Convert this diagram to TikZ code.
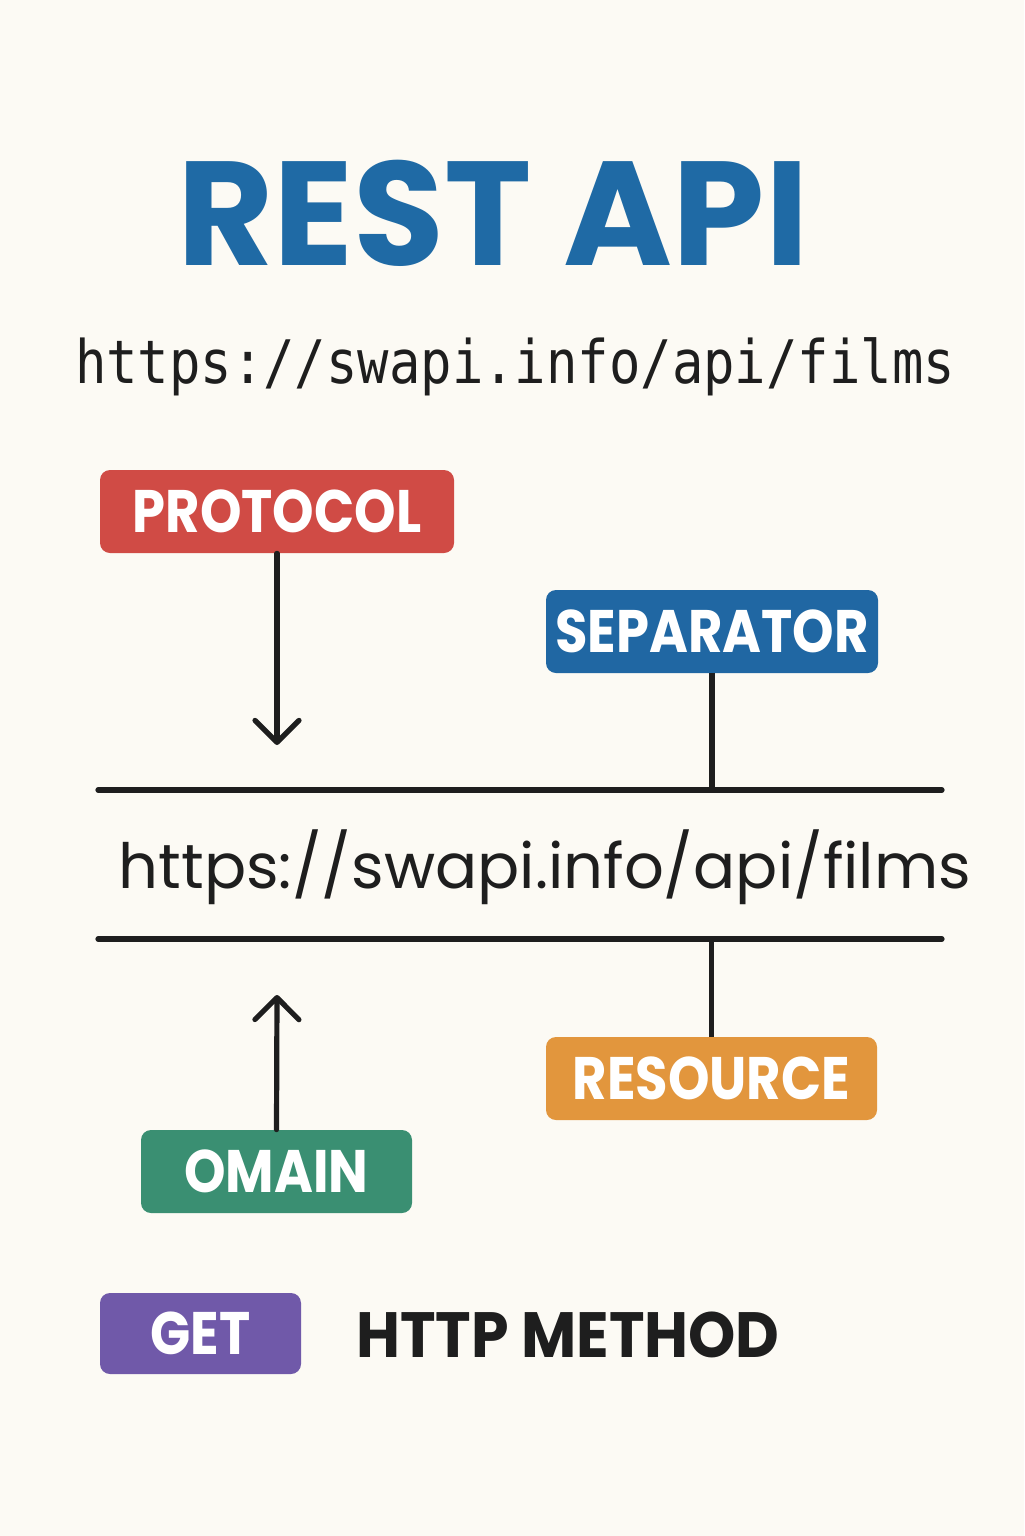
\documentclass[tikz,border=0pt]{standalone}
\usepackage{fontspec}
\usetikzlibrary{arrows.meta}

\newfontfamily\popfont{Poppins}
\newfontfamily\tagfont[FakeStretch=0.88]{Poppins}
\newfontfamily\methodfont[FakeStretch=0.94]{Poppins}
\newfontfamily\urlmono[FakeStretch=0.87]{DejaVu Sans Mono}

\definecolor{bgcream}{HTML}{FCFAF4}
\definecolor{restblue}{HTML}{1F6AA5}
\definecolor{protored}{HTML}{D04B45}
\definecolor{sepblue}{HTML}{2067A3}
\definecolor{resorange}{HTML}{E2963D}
\definecolor{domgreen}{HTML}{3A8F72}
\definecolor{getpurple}{HTML}{7059A9}
\definecolor{inkdark}{HTML}{1E1E1E}

\begin{document}
\begin{tikzpicture}[x=0.5pt,y=0.5pt,yscale=-1,xscale=1,
  tag/.style={rounded corners=5pt, minimum height=41.5pt, inner sep=0pt,
    text=white, font=\tagfont\bfseries\fontsize{30}{30}\selectfont},
  rule/.style={line width=2.6pt, line cap=round, draw=inkdark},
  pointer/.style={rule, line join=round, -{Straight Barb[length=11pt,width=22pt,round]}}]
%set diagram size to 1024 x 1536
\fill[bgcream] (0,0) rectangle (1024,1536);
\useasboundingbox (0,0) rectangle (1024,1536);

% Title
\node[anchor=base, text=restblue, font=\popfont\bfseries\fontsize{74}{74}\selectfont] (title) at (493,265) {REST API};
% URL
\node[anchor=base, text=inkdark, font=\urlmono\fontsize{30}{30}\selectfont] (urltop) at (515,383) {https://swapi.info/api/films};

%Tag: protocol
\node[tag, fill=protored, minimum width=177pt] (protocol) at (277,511.5) {PROTOCOL};
%Tag: separator
\node[tag, fill=sepblue, minimum width=166pt] (separator) at (712,631.5) {SEPARATOR};

%Rules round the URL
\coordinate (ruleA1) at (98,790);
\coordinate (ruleA2) at (942,790);
\coordinate (ruleB1) at (98,939);
\coordinate (ruleB2) at (942,939);
\draw[rule] (ruleA1) -- (ruleA2);
\draw[rule] (ruleB1) -- (ruleB2);

% URL between the rules
\node[anchor=base, text=inkdark, font=\popfont\fontsize{31.2}{31.2}\selectfont] (urlmid) at (545,888) {https://swapi.info/api/films};

%Tag: resource
\node[tag, fill=resorange, minimum width=165.5pt] (resource) at (711.5,1078.5) {RESOURCE};
%Tag: domain
\node[tag, fill=domgreen, minimum width=135.5pt] (domain) at (276.5,1171.5) {OMAIN};

%Connectors
\coordinate (protip) at (277,745);
\coordinate (domtip) at (277,995);
\draw[pointer] (protocol.south) -- (protip);
\draw[pointer] (domain.north) -- (domtip);
\draw[rule, line cap=butt] (separator.south) -- (separator.south |- ruleA1);
\draw[rule, line cap=butt] (resource.north |- ruleB1) -- (resource.north);

%Legend
\node[tag, fill=getpurple, minimum width=100.5pt, minimum height=40.5pt] (get) at (200.5,1333.5) {GET};
\node[anchor=base west, text=inkdark, font=\methodfont\bfseries\fontsize{32}{32}\selectfont] (method) at (349,1357) {HTTP METHOD};

\end{tikzpicture}
\end{document}
